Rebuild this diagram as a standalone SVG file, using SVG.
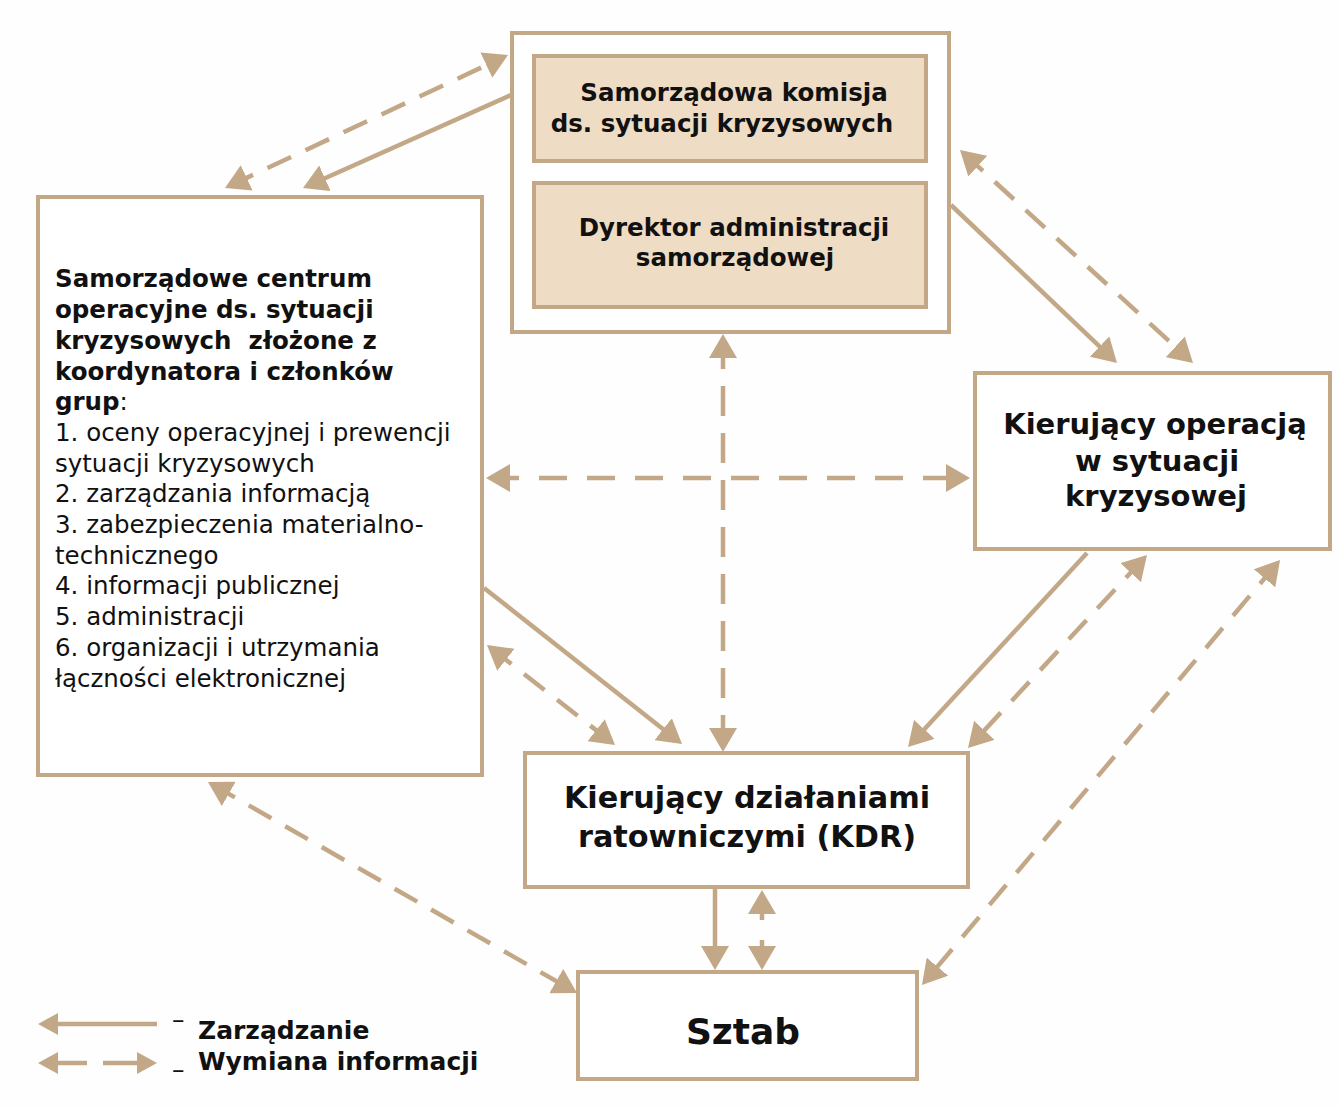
<svg xmlns="http://www.w3.org/2000/svg" width="1338" height="1107" viewBox="0 0 1338 1107">
<style>
.box{fill:#ffffff;stroke:#c2a887;stroke-width:4}
.inner{fill:#efdcc4;stroke:#c2a887;stroke-width:4}
.t{font-family:"DejaVu Sans","Liberation Sans",sans-serif;fill:#111111}
.b{font-weight:bold}
.c{text-anchor:middle}
.solid{fill:none;stroke:#c2a887;stroke-width:4.5}
.dash{fill:none;stroke:#c2a887;stroke-width:4.5;stroke-dasharray:26 16}
</style>
<defs>
<marker id="ah" markerUnits="userSpaceOnUse" markerWidth="24" markerHeight="28" refX="19" refY="14" orient="auto-start-reverse">
<path d="M0,0 L24,14 L0,28 z" fill="#c2a887"/>
</marker>
<marker id="ahs" markerUnits="userSpaceOnUse" markerWidth="20" markerHeight="22" refX="15" refY="11" orient="auto-start-reverse">
<path d="M0,0 L20,11 L0,22 z" fill="#c2a887"/>
</marker>
</defs>
<rect width="1338" height="1107" fill="#fefefe"/>

<g id="connectors">
<line class="solid" x1="511" y1="95" x2="307.6" y2="186" marker-end="url(#ah)"/>
<line class="dash" x1="229.5" y1="185.9" x2="503.5" y2="57.1" marker-start="url(#ah)" marker-end="url(#ah)"/>
<line class="dash" x1="963.7" y1="153.4" x2="1189.3" y2="359.6" marker-start="url(#ah)" marker-end="url(#ah)"/>
<line class="solid" x1="951" y1="205" x2="1113.4" y2="359.6" marker-end="url(#ah)"/>
<line class="dash" x1="723" y1="339" x2="723" y2="747" style="stroke-dasharray:30 17" marker-start="url(#ah)" marker-end="url(#ah)"/>
<line class="dash" x1="491" y1="478" x2="965" y2="478" style="stroke-dasharray:28 20" marker-start="url(#ah)" marker-end="url(#ah)"/>
<line class="solid" x1="484" y1="588" x2="678.1" y2="740.9" marker-end="url(#ah)"/>
<line class="dash" x1="490.9" y1="648.1" x2="611.1" y2="741.9" marker-start="url(#ah)" marker-end="url(#ah)"/>
<line class="solid" x1="1087" y1="553" x2="911.4" y2="743.3" marker-end="url(#ah)"/>
<line class="dash" x1="1143.6" y1="558.7" x2="971.4" y2="744.3" marker-start="url(#ah)" marker-end="url(#ah)"/>
<line class="dash" x1="1276.8" y1="563.8" x2="925.2" y2="981.2" marker-start="url(#ah)" marker-end="url(#ah)"/>
<line class="dash" x1="212.3" y1="784.5" x2="572.7" y2="990.5" marker-start="url(#ah)" marker-end="url(#ah)"/>
<line class="solid" x1="715" y1="888" x2="715" y2="965" marker-end="url(#ah)"/>
<line class="dash" x1="762" y1="895" x2="762" y2="965" style="stroke-dasharray:25 20 25" marker-start="url(#ah)" marker-end="url(#ah)"/>
</g>

<g id="top-group">
<rect class="box" x="512" y="33" width="437" height="299"/>
</g>
<g id="komisja">
<rect class="inner" x="534" y="56" width="392" height="105"/>
<text class="t b c" font-size="24.5" x="734" y="101">Samorządowa komisja</text>
<text class="t b c" font-size="24.5" x="722" y="132">ds. sytuacji kryzysowych</text>
</g>
<g id="dyrektor">
<rect class="inner" x="534" y="183" width="392" height="124"/>
<text class="t b c" font-size="24.5" x="734" y="236">Dyrektor administracji</text>
<text class="t b c" font-size="24.5" x="735" y="266">samorządowej</text>
</g>

<g id="centrum">
<rect class="box" x="38" y="197" width="444" height="578"/>
<text class="t" font-size="24.5" x="55">
<tspan class="b" x="55" y="287">Samorządowe centrum</tspan>
<tspan class="b" x="55" y="318">operacyjne ds. sytuacji</tspan>
<tspan class="b" x="55" y="349" xml:space="preserve">kryzysowych  złożone z</tspan>
<tspan class="b" x="55" y="380">koordynatora i członków</tspan>
<tspan x="55" y="410"><tspan class="b">grup</tspan>:</tspan>
<tspan x="55" y="441">1. oceny operacyjnej i prewencji</tspan>
<tspan x="55" y="472">sytuacji kryzysowych</tspan>
<tspan x="55" y="502">2. zarządzania informacją</tspan>
<tspan x="55" y="533">3. zabezpieczenia materialno-</tspan>
<tspan x="55" y="564">technicznego</tspan>
<tspan x="55" y="594">4. informacji publicznej</tspan>
<tspan x="55" y="625">5. administracji</tspan>
<tspan x="55" y="656">6. organizacji i utrzymania</tspan>
<tspan x="55" y="687">łączności elektronicznej</tspan>
</text>
</g>

<g id="operacja">
<rect class="box" x="975" y="373" width="355" height="176"/>
<text class="t b c" font-size="29" x="1155" y="434">Kierujący operacją</text>
<text class="t b c" font-size="29" x="1157" y="471">w sytuacji</text>
<text class="t b c" font-size="29" x="1156" y="506">kryzysowej</text>
</g>

<g id="kdr">
<rect class="box" x="525" y="753" width="443" height="134"/>
<text class="t b c" font-size="30.3" x="747" y="808">Kierujący działaniami</text>
<text class="t b c" font-size="30.3" x="747" y="847">ratowniczymi (KDR)</text>
</g>

<g id="sztab">
<rect class="box" x="578" y="972" width="339" height="107"/>
<text class="t b c" font-size="36" x="743" y="1044">Sztab</text>
</g>

<g id="legend">
<line class="solid" x1="157" y1="1024" x2="43" y2="1024" marker-end="url(#ahs)"/>
<line class="solid" x1="43" y1="1063" x2="152" y2="1063" style="stroke-dasharray:44 16 49" marker-start="url(#ahs)" marker-end="url(#ahs)"/>
<text class="t" font-size="25" x="172" y="1028">–</text>
<text class="t" font-size="25" x="172" y="1078">–</text>
<text class="t b" font-size="25" x="198" y="1039">Zarządzanie</text>
<text class="t b" font-size="25" x="198" y="1070">Wymiana informacji</text>
</g>
</svg>
